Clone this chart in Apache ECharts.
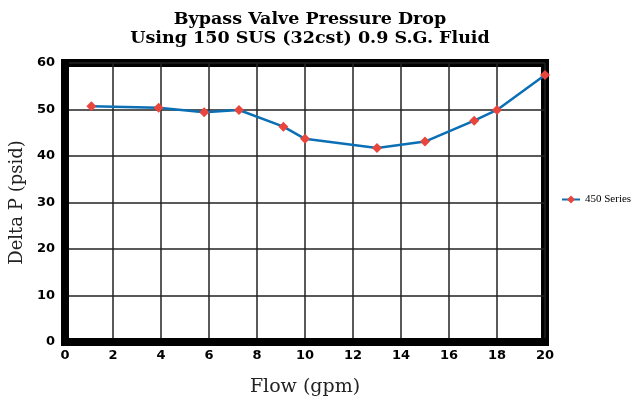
<!DOCTYPE html>
<html>
<head>
<meta charset="utf-8">
<script src="https://cdn.jsdelivr.net/npm/echarts@6/dist/echarts.min.js"></script>
<style>
  html, body { margin: 0; padding: 0; background: #fff; }
  #chart { width: 636px; height: 400px; }
</style>
</head>
<body>
<div id="chart"></div>
<script>
// flow (gpm) / delta P (psid)
let flow = [1.1, 3.9, 5.8, 7.25, 9.1, 10, 13, 15, 17.05, 18, 20];
let deltaP = [50.7, 50.4, 49.4, 49.9, 46.3, 43.7, 41.7, 43.1, 47.6, 49.9, 57.4];
let seriesName = '450 Series';

let points = [];
for (let i = 0; i < flow.length; i++) {
    points.push([flow[i], deltaP[i]]);
}

let myChart = echarts.init(document.getElementById('chart'));
let option = {
    animation: false,
    title: {
        text: 'Bypass Valve Pressure Drop\nUsing 150 SUS (32cst) 0.9 S.G. Fluid',
        left: 305,
        textAlign: 'center',
        top: 5,
        textStyle: {
            fontFamily: 'DejaVu Serif',
            fontWeight: 'bold',
            fontSize: 17.5,
            lineHeight: 19,
            color: '#000'
        }
    },
    legend: {
        orient: 'vertical',
        left: 561,
        top: 194,
        padding: 0,
        itemWidth: 18,
        itemHeight: 10,
        textStyle: {
            fontFamily: 'Liberation Serif',
            fontSize: 11,
            color: '#000'
        },
        data: [seriesName]
    },
    grid: {
        left: 65,
        right: 91,
        top: 63,
        bottom: 58,
        outerBoundsMode: 'none',
        show: true,
        borderColor: '#000',
        borderWidth: 8
    },
    xAxis: {
        type: 'value',
        min: 0,
        max: 20,
        interval: 2,
        name: 'Flow (gpm)',
        nameLocation: 'middle',
        nameGap: 36,
        nameTextStyle: {
            fontFamily: 'DejaVu Serif',
            fontSize: 19,
            color: '#222'
        },
        axisLine: { show: true, lineStyle: { color: '#000', width: 8 } },
        axisTick: { show: false },
        axisLabel: {
            margin: 7,
            fontFamily: 'DejaVu Sans',
            fontWeight: 'bold',
            fontSize: 13,
            color: '#000'
        },
        splitLine: { show: true, lineStyle: { color: '#222', width: 1.5 } }
    },
    yAxis: {
        type: 'value',
        min: 0,
        max: 60,
        interval: 10,
        name: 'Delta P (psid)',
        nameLocation: 'middle',
        nameGap: 38,
        nameTextStyle: {
            fontFamily: 'DejaVu Serif',
            fontSize: 18,
            color: '#222'
        },
        axisLine: { show: true, lineStyle: { color: '#000', width: 8 } },
        axisTick: { show: false },
        axisLabel: {
            margin: 10,
            fontFamily: 'DejaVu Sans',
            fontWeight: 'bold',
            fontSize: 13,
            color: '#000'
        },
        splitLine: { show: true, lineStyle: { color: '#222', width: 1.5 } }
    },
    series: [
        {
            name: seriesName,
            type: 'line',
            data: points,
            symbol: 'diamond',
            symbolSize: 10,
            lineStyle: { color: '#0b6fb5', width: 2.5 },
            itemStyle: { color: '#e8453c', borderWidth: 0 },
            z: 5
        }
    ]
};
myChart.setOption(option);
</script>
</body>
</html>
